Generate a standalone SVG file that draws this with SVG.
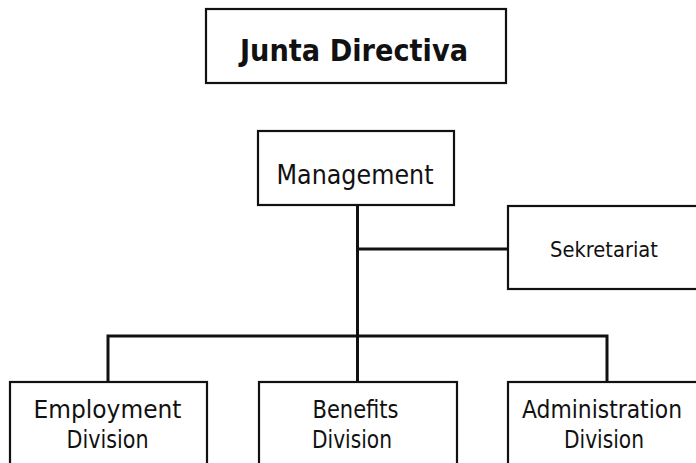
<svg xmlns="http://www.w3.org/2000/svg" width="696" height="463" viewBox="0 0 696 463">
<style>
.box{fill:#fff;stroke:#111;stroke-width:2.2}
.conn{fill:none;stroke:#111;stroke-width:3;stroke-linecap:square}
text{font-family:"DejaVu Sans","Liberation Sans",sans-serif;fill:#111;text-anchor:middle}
.t{font-size:24px}
</style>
<rect width="696" height="463" fill="#fff"/>
<g id="connectors">
<path class="conn" d="M357.5 206 V381"/>
<path class="conn" d="M357.5 249 H508"/>
<path class="conn" d="M108 336 H607 M108 336 V382 M607 336 V382"/>
</g>
<g id="junta">
<rect class="box" x="206" y="9" width="300" height="74"/>
<text x="354" y="61" font-size="30" font-weight="bold" textLength="228" lengthAdjust="spacingAndGlyphs">Junta Directiva</text>
</g>
<g id="management">
<rect class="box" x="258" y="131" width="196" height="74"/>
<text x="355" y="184" font-size="27" textLength="157" lengthAdjust="spacingAndGlyphs">Management</text>
</g>
<g id="sekretariat">
<rect class="box" x="508" y="206" width="200" height="83"/>
<text x="604" y="257" font-size="21" textLength="108" lengthAdjust="spacingAndGlyphs">Sekretariat</text>
</g>
<g id="employment">
<rect class="box" x="10" y="382" width="197" height="83"/>
<text class="t" x="107.5" y="418" textLength="148" lengthAdjust="spacingAndGlyphs">Employment</text>
<text class="t" x="107.5" y="448" textLength="82" lengthAdjust="spacingAndGlyphs">Division</text>
</g>
<g id="benefits">
<rect class="box" x="259" y="382" width="198" height="83"/>
<text class="t" x="355.5" y="418" textLength="86" lengthAdjust="spacingAndGlyphs">Benefits</text>
<text class="t" x="352" y="448" textLength="80" lengthAdjust="spacingAndGlyphs">Division</text>
</g>
<g id="administration">
<rect class="box" x="508" y="382" width="200" height="83"/>
<text class="t" x="602" y="418" textLength="160" lengthAdjust="spacingAndGlyphs">Administration</text>
<text class="t" x="604" y="448" textLength="80" lengthAdjust="spacingAndGlyphs">Division</text>
</g>
</svg>
